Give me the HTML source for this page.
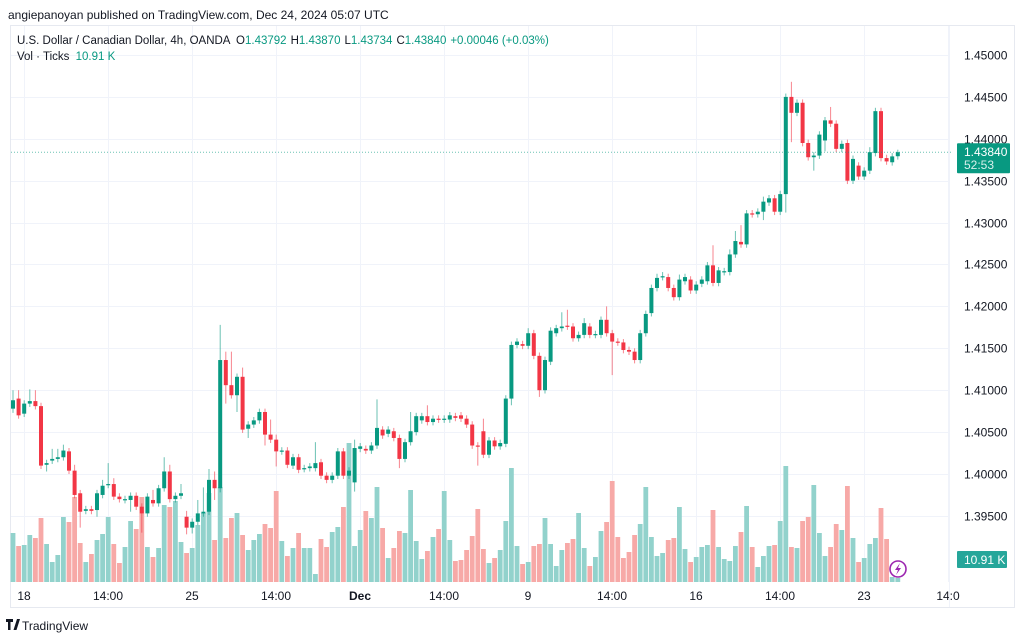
<!DOCTYPE html>
<html><head><meta charset="utf-8"><style>
html,body{margin:0;padding:0;background:#fff;width:1024px;height:641px;overflow:hidden}
svg{display:block;font-family:"Liberation Sans",sans-serif}
</style></head><body>
<svg id="chart" width="1024" height="641" viewBox="0 0 1024 641">
<text x="8" y="19" font-size="12" fill="#131722">angiepanoyan published on TradingView.com, Dec 24, 2024 05:07 UTC</text>
<rect x="10.5" y="25.5" width="1004" height="582" fill="none" stroke="#e6e9f0"/>
<g id="grid"></g>
<g id="vol"></g>
<g id="candles"></g>
<g id="axes"></g>
<text x="17" y="44" font-size="11.5" fill="#131722">U.S. Dollar / Canadian Dollar, 4h, OANDA <tspan dx="3">O</tspan><tspan fill="#089981">1.43792</tspan><tspan dx="4">H</tspan><tspan fill="#089981">1.43870</tspan><tspan dx="4">L</tspan><tspan fill="#089981">1.43734</tspan><tspan dx="4">C</tspan><tspan fill="#089981">1.43840</tspan><tspan dx="4" fill="#089981">+0.00046 (+0.03%)</tspan></text>
<text x="17" y="60" font-size="11.5" fill="#131722">Vol · Ticks <tspan dx="3" fill="#089981">10.91 K</tspan></text>
<g><circle cx="898" cy="569" r="8" fill="#fff" stroke="#9c27b0" stroke-width="1.6"/><path d="M900 563 L895 570 L898 570 L896 575 L901 568 L898 568 Z" fill="#9c27b0"/></g>
<g><path d="M6 619h7v3h-2.5v8h-2.5v-8h-2z M13.5 630l3.5-11h3l-3.5 11z" fill="#131722"/><text x="22" y="630" font-size="12" fill="#131722">TradingView</text></g>
</svg>
<script>
const opens=[1.4078,1.4090,1.4072,1.4084,1.4087,1.4081,1.4011,1.4016,1.4018,1.4020,1.4027,1.4004,1.3977,1.3956,1.3958,1.3957,1.3975,1.3987,1.3988,1.3973,1.3969,1.3969,1.3974,1.3961,1.3953,1.3969,1.3965,1.3983,1.4003,1.3970,1.3974,1.3949,1.3936,1.3943,1.3953,1.3955,1.3993,1.3983,1.4136,1.4106,1.4094,1.4116,1.4054,1.4059,1.4064,1.4074,1.4047,1.4041,1.4027,1.4028,1.4010,1.4020,1.4006,1.4007,1.4007,1.4014,1.3998,1.3993,1.3998,1.4027,1.3998,1.3990,1.4030,1.4030,1.4028,1.4034,1.4053,1.4048,1.4051,1.4043,1.4018,1.4038,1.4050,1.4064,1.4069,1.4062,1.4066,1.4065,1.4065,1.4069,1.4070,1.4066,1.4059,1.4034,1.4051,1.4023,1.4040,1.4033,1.4036,1.4090,1.4154,1.4155,1.4153,1.4168,1.4141,1.4100,1.4134,1.4168,1.4174,1.4177,1.4176,1.4162,1.4166,1.4176,1.4166,1.4166,1.4184,1.4168,1.4158,1.4157,1.4148,1.4146,1.4136,1.4168,1.4192,1.4222,1.4235,1.4235,1.4222,1.4211,1.4230,1.4232,1.4219,1.4227,1.4230,1.4249,1.4228,1.4241,1.4241,1.4262,1.4277,1.4274,1.4311,1.4310,1.4313,1.4324,1.4329,1.4313,1.4334,1.4450,1.4431,1.4443,1.4395,1.4378,1.4380,1.4398,1.4422,1.4418,1.4388,1.4395,1.4350,1.4368,1.4355,1.4362,1.4383,1.4433,1.4377,1.4372,1.43792];
const closes=[1.4088,1.4070,1.4084,1.4087,1.4081,1.4010,1.4013,1.4018,1.4020,1.4028,1.4004,1.3975,1.3955,1.3958,1.3956,1.3977,1.3986,1.3988,1.3973,1.3970,1.3970,1.3974,1.3961,1.3953,1.3973,1.3965,1.3983,1.4003,1.3970,1.3974,1.3977,1.3936,1.3943,1.3953,1.3955,1.3993,1.3983,1.4136,1.4106,1.4094,1.4116,1.4053,1.4059,1.4064,1.4074,1.4047,1.4041,1.4027,1.4028,1.4011,1.4020,1.4005,1.4007,1.4009,1.4013,1.3998,1.3993,1.3998,1.4027,1.3998,1.4004,1.4031,1.4033,1.4028,1.4034,1.4055,1.4046,1.4053,1.4043,1.4018,1.4038,1.4051,1.4069,1.4069,1.4062,1.4066,1.4065,1.4066,1.4070,1.4067,1.4066,1.4059,1.4034,1.4033,1.4023,1.4040,1.4033,1.4037,1.4090,1.4154,1.4158,1.4153,1.4168,1.4141,1.4100,1.4136,1.4171,1.4174,1.4176,1.4176,1.4162,1.4166,1.4180,1.4166,1.4167,1.4184,1.4168,1.4158,1.4157,1.4148,1.4146,1.4136,1.4168,1.4191,1.4222,1.4234,1.4236,1.4222,1.4211,1.4232,1.4235,1.4219,1.4226,1.4232,1.4249,1.4228,1.4243,1.4242,1.4262,1.4278,1.4274,1.4311,1.4310,1.4313,1.4325,1.4329,1.4313,1.4334,1.4450,1.4431,1.4443,1.4395,1.4378,1.4380,1.4405,1.4422,1.4418,1.4388,1.4394,1.4350,1.4376,1.4355,1.4362,1.4384,1.4433,1.4377,1.4373,1.4379,1.43840];
const wickUpPips=[12,10,4,14,13,4,4,12,10,7,4,7,4,4,4,4,7,25,7,4,4,4,4,4,4,12,4,17,8,4,11,7,4,16,29,13,10,42,10,40,4,11,4,4,4,4,18,6,4,4,4,4,4,4,25,4,4,4,4,4,4,10,4,4,4,34,4,4,4,4,4,23,4,4,13,4,4,4,4,4,4,4,4,4,15,4,4,4,4,4,4,4,6,4,4,4,4,4,17,19,4,4,6,4,4,4,16,4,4,4,4,4,4,4,4,5,5,4,4,6,4,4,4,4,4,24,4,4,6,12,20,4,4,4,6,4,4,4,4,18,4,4,4,4,4,4,16,4,4,4,4,4,4,6,4,4,4,4,3];
const wickDownPips=[5,4,4,4,4,4,8,4,4,4,4,4,19,4,4,8,4,4,4,4,4,14,4,23,4,4,4,4,4,4,4,8,7,4,4,4,14,5,22,4,20,4,11,4,4,13,4,18,4,4,4,4,4,4,4,4,4,4,4,4,4,11,4,4,4,4,4,4,4,11,4,4,4,4,4,4,4,4,4,4,4,4,4,23,4,4,4,4,4,8,4,4,4,4,8,4,4,4,4,4,4,4,4,4,4,4,4,40,4,4,4,4,4,4,4,4,4,4,4,4,4,4,4,4,4,4,4,4,4,4,4,4,4,4,10,4,4,4,22,35,4,4,4,16,4,13,4,4,4,4,4,4,4,4,4];
const volumesK=[4.9,3.6,3.7,4.7,4.4,6.4,3.8,2.0,2.7,6.5,6.0,8.5,3.9,2.0,2.8,4.2,4.8,6.5,3.8,1.9,3.5,6.1,5.3,8.5,3.5,2.5,3.4,7.7,7.5,8.1,4.0,2.9,3.4,5.7,6.9,8.9,4.2,9.5,4.4,6.4,6.9,4.7,3.2,4.2,4.8,5.8,5.4,9.1,4.1,2.6,3.4,4.9,3.4,3.4,0.8,4.3,3.5,5.0,5.5,7.5,13.9,3.6,5.2,7.1,6.4,9.5,5.4,2.4,3.4,5.1,4.9,9.2,4.1,2.3,3.1,4.5,5.3,9.1,4.2,2.1,2.2,3.2,4.6,7.3,3.3,1.9,2.4,3.2,6.1,11.4,3.6,1.8,2.0,3.6,3.8,6.4,3.8,1.6,3.2,3.9,4.3,6.9,3.4,1.6,2.5,5.1,6.0,10.1,4.5,2.4,3.0,4.7,5.8,9.5,4.5,2.6,2.9,4.2,4.4,7.5,3.3,2.0,2.5,3.5,3.7,7.2,3.5,2.3,2.1,3.6,5.0,7.6,3.5,1.5,2.6,3.6,3.7,6.1,11.6,3.5,3.4,6.1,6.5,9.7,4.9,2.6,3.5,5.8,5.2,9.6,4.4,2.0,2.4,3.8,4.4,7.4,4.3,0.5,0.4];
const priceTicks=[1.395,1.400,1.405,1.410,1.415,1.420,1.425,1.430,1.435,1.440,1.445,1.450];
const timeLabels=["18","14:00","25","14:00","Dec","14:00","9","14:00","16","14:00","23","14:0"];
const lastPrice=1.43840;

const NS="http://www.w3.org/2000/svg";
const X0=13, STEP=5.6, BW=4, VBASE=582, VSCALE=10;
const xOf=i=>X0+i*STEP;
const yOf=p=>55+(1.45-p)*8380;
const vh=v=>v*VSCALE;
function mk(tag,attrs,parent){const e=document.createElementNS(NS,tag);for(const k in attrs)e.setAttribute(k,attrs[k]);parent.appendChild(e);return e;}
const grid=document.getElementById('grid'),vol=document.getElementById('vol'),cg=document.getElementById('candles'),axes=document.getElementById('axes');

priceTicks.forEach(p=>{
  const y=Math.round(yOf(p))+0.5;
  const l=mk('line',{x1:11,x2:949,y1:y,y2:y,stroke:'#f0f3fa'},grid);
  
  
  const t=mk('text',{x:964,y:y+4,'font-size':12,fill:'#131722'},axes);
  t.textContent=p.toFixed(5);
  
  
});
timeLabels.forEach((s,k)=>{
  const x=24+k*84;
  const l=mk('line',{x1:x+0.5,x2:x+0.5,y1:26,y2:582,stroke:'#f0f3fa'},grid);
  
  
  const t=mk('text',{x:x,y:600,'font-size':12,fill:'#131722','text-anchor':'middle','font-weight':s==='Dec'?'bold':'normal'},axes);
  t.textContent=s;
  
  
});
const ax=mk('line',{x1:949.5,x2:949.5,y1:26,y2:607,stroke:'#f0f3fa'},axes);



const n=Math.min(opens.length,closes.length);
for(let i=0;i<n;i++){
  const o=opens[i], c=closes[i], up=c>=o, x=xOf(i);
  const vv=volumesK[i]??0.4;
  const v=mk('rect',{x:x-2.4,y:VBASE-vh(vv),width:4.8,height:vh(vv),fill:up?'#92d2cc':'#f7a9a7'},vol);
  
  
}
for(let i=0;i<n;i++){
  const o=opens[i], c=closes[i], up=c>=o, x=xOf(i), col=up?'#089981':'#f23645';
  const wu=wickUpPips[i]??4, wd=wickDownPips[i]??4;
  const hi=Math.max(o,c)+wu*0.0001, lo=Math.min(o,c)-wd*0.0001;
  const w=mk('line',{x1:x,x2:x,y1:yOf(hi),y2:yOf(lo),stroke:col,'stroke-width':1,'stroke-opacity':0.6},cg);
  
  
  const top=yOf(Math.max(o,c)), h=Math.max(1.2,yOf(Math.min(o,c))-top);
  const b=mk('rect',{x:x-BW/2,y:top,width:BW,height:h,fill:col},cg);
  
  
}
const ly=yOf(lastPrice);
const pl=mk('line',{x1:11,x2:952,y1:ly,y2:ly,stroke:'#089981','stroke-dasharray':'1 2','stroke-opacity':0.6},axes);


const pb=mk('rect',{x:957,y:ly-9,width:53,height:30,fill:'#089981',rx:1},axes);


const pt=mk('text',{x:964,y:ly+4,'font-size':12,fill:'#fff'},axes);
pt.textContent=lastPrice.toFixed(5);


const ct=mk('text',{x:964,y:ly+17,'font-size':12,fill:'#d8f0ec'},axes);
ct.textContent='52:53';


const vb=mk('rect',{x:957,y:551,width:50,height:17,fill:'#26a69a',rx:1},axes);


const vt=mk('text',{x:964,y:564,'font-size':12,fill:'#fff'},axes);
vt.textContent='10.91 K';


</script>
</body></html>
